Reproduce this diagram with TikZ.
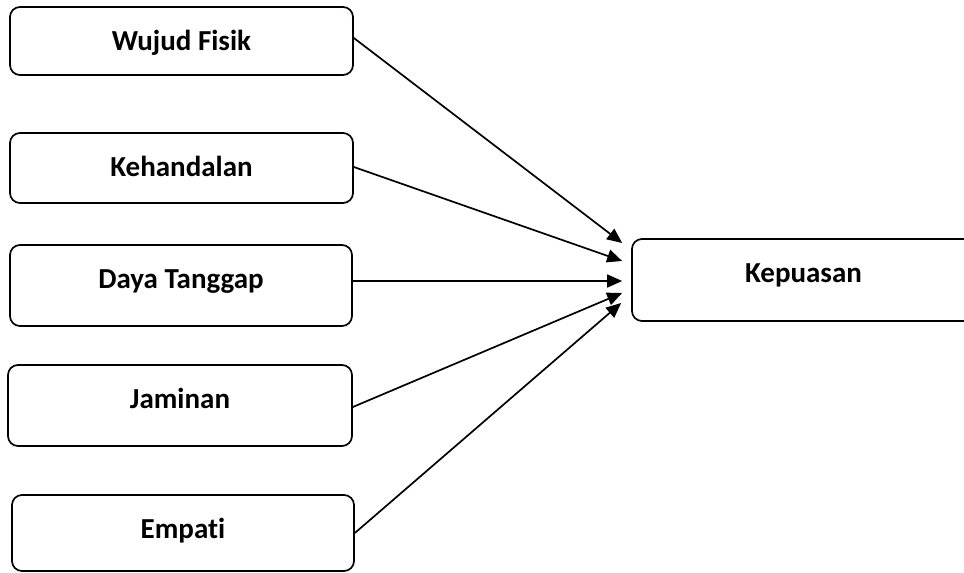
\documentclass[tikz,border=0pt]{standalone}
\usepackage{fontspec}
\setmainfont{Carlito}[Ligatures=NoCommon]
\usetikzlibrary{arrows.meta,calc}
\tikzset{
  bx/.style={draw, line width=1.7pt, rounded corners=10pt, inner xsep=0pt, inner ysep=0pt,
    font=\fontsize{29}{34}\selectfont\bfseries, align=center, text height=43pt},
  conn/.style={line width=1.7pt, -{Triangle[length=15pt,width=13pt]}}
}
\begin{document}
\begin{tikzpicture}[x=1pt,y=-1pt]
\useasboundingbox (0,0) rectangle (964,573);
\node[bx, minimum width=343pt, minimum height=68pt, text depth=25pt] (wf) at (181.5,41) {Wujud Fisik};
\node[bx, minimum width=343pt, minimum height=70pt, text depth=27pt] (kh) at (181.5,168) {Kehandalan};
\node[bx, minimum width=342pt, minimum height=81pt, text depth=38pt] (dt) at (181,285.5) {Daya Tanggap};
\node[bx, minimum width=344pt, minimum height=81pt, text depth=38pt] (jm) at (180,405.5) {Jaminan};
\node[bx, minimum width=342pt, minimum height=76pt, text depth=33pt] (em) at (183,533) {Empati};
\node[bx, minimum width=343pt, minimum height=82pt, text depth=39pt] (kp) at (803.5,280) {Kepuasan};
\coordinate (t1) at ($(kp.west)+(-9,-37)$);
\coordinate (t2) at ($(kp.west)+(-9,-19)$);
\coordinate (t3) at ($(kp.west)+(-9,1)$);
\coordinate (t4) at ($(kp.west)+(-9,13)$);
\coordinate (t5) at ($(kp.west)+(-10,23)$);
\draw[conn] ($(wf.east)+(0,-3)$) -- (t1);
\draw[conn] ($(kh.east)+(0,-1)$) -- (t2);
\draw[conn] ($(dt.east)+(0,-4.5)$) -- (t3);
\draw[conn] ($(jm.east)+(0,1.5)$) -- (t4);
\draw[conn] (em.east) -- (t5);
\end{tikzpicture}
\end{document}
